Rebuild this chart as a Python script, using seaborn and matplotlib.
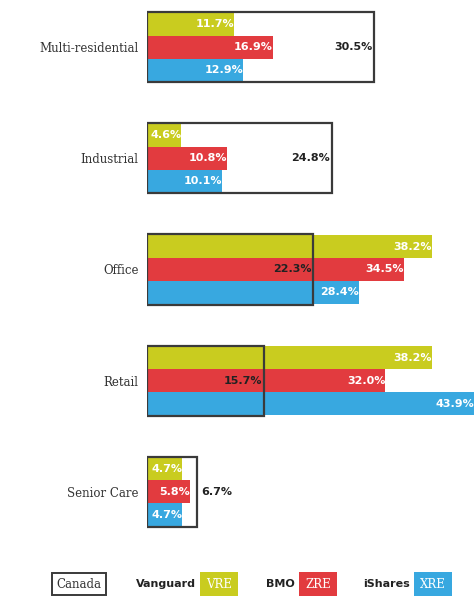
import matplotlib
matplotlib.use("Agg")
import matplotlib.pyplot as plt
import seaborn as sns
import pandas as pd
import numpy as np

categories = ["Multi-residential", "Industrial", "Office", "Retail", "Senior Care"]
vanguard_vre = [11.7, 4.6, 38.2, 38.2, 4.7]
bmo_zre = [16.9, 10.8, 34.5, 32.0, 5.8]
ishares_xre = [12.9, 10.1, 28.4, 43.9, 4.7]
canada = [30.5, 24.8, 22.3, 15.7, 6.7]
funds = ["Vanguard VRE", "BMO ZRE", "iShares XRE"]
colors = ["#c9cc1f", "#e23b3f", "#38a8e0"]

rows = []
for fund, vals in zip(funds, [vanguard_vre, bmo_zre, ishares_xre]):
    for c, v in zip(categories, vals):
        rows.append({"category": c, "fund": fund, "value": v})
df = pd.DataFrame(rows)

sns.set_theme(style="white")
plt.rcParams["font.family"] = ["DejaVu Sans"]

fig = plt.figure(figsize=(4.74, 5.97), dpi=100)
W, H = 474, 597
ax = fig.add_axes([147 / W, 1 - 540 / H, (474 - 147) / W, 540 / H])

sns.barplot(data=df, y="category", x="value", hue="fund", order=categories,
            hue_order=funds, palette=colors, orient="h", width=0.62,
            dodge=True, ax=ax, legend=False, saturation=1, linewidth=0)

ypos = np.arange(len(categories))
ax.barh(ypos, canada, height=0.63, fill=False, edgecolor="#3a3a3a",
        linewidth=1.6, zorder=5)

ax.set_xlim(0, 43.9)
ax.set_ylim(4.432, -0.423)
for s in ax.spines.values():
    s.set_visible(False)
ax.set_xticks([])
ax.set_xlabel("")
ax.set_ylabel("")
ax.tick_params(axis="y", length=0, pad=6)
ax.set_yticks(ypos)
ax.set_yticklabels(categories, fontfamily="DejaVu Serif", fontsize=8.5, color="#333333")

off = 0.62 / 3
lab_font = dict(fontsize=8, fontweight="bold", family=["Liberation Sans Narrow", "DejaVu Sans"])
for i in range(len(categories)):
    for k, vals in enumerate([vanguard_vre, bmo_zre, ishares_xre]):
        y = i + (k - 1) * off
        ax.text(vals[i], y, f"{vals[i]:.1f}%", ha="right", va="center",
                color="white", zorder=6, **lab_font)
    cv = canada[i]
    if cv < 10:
        ax.text(cv + 0.6, i, f"{cv:.1f}%", ha="left", va="center",
                color="#222222", zorder=6, **lab_font)
    else:
        ax.text(cv - 0.2, i, f"{cv:.1f}%", ha="right", va="center",
                color="#222222", zorder=6, **lab_font)

# Legend
ly = 1 - 584 / H
fig.text(79 / W, ly, "Canada", ha="center", va="center", fontsize=8.5,
         family="DejaVu Serif", color="#333333",
         bbox=dict(boxstyle="square,pad=0.4", fc="white", ec="#3a3a3a", lw=1.4))
leg_font = dict(fontsize=8, fontweight="bold", family=["Liberation Sans Narrow", "DejaVu Sans"])
items = [("Vanguard", "VRE", 200, colors[0]), ("BMO", "ZRE", 299, colors[1]),
         ("iShares", "XRE", 414, colors[2])]
for name, code, x, col in items:
    fig.text((x - 4) / W, ly, name, ha="right", va="center", color="#222222", **leg_font)
    fig.text((x + 6) / W, ly, code, ha="left", va="center", color="white",
             fontsize=8.5, family="DejaVu Serif",
             bbox=dict(boxstyle="square,pad=0.5", fc=col, ec="none"))

fig.savefig("out.png", dpi=100)
